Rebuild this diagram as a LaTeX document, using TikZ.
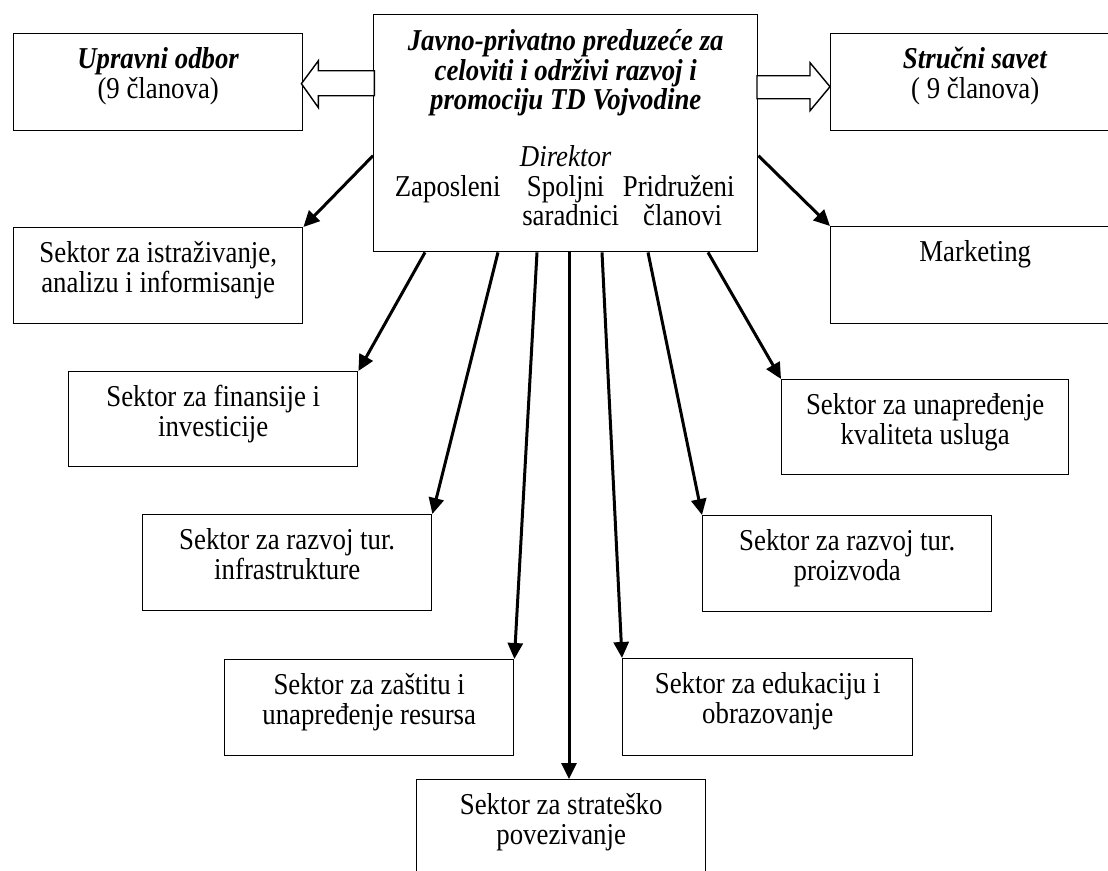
\documentclass[tikz,border=0pt]{standalone}
\usepackage{fontspec}
\setmainfont{Liberation Serif}[FakeStretch=0.885]
\usetikzlibrary{arrows.meta,calc}
% text size used in every box
\newcommand\boxfont{\fontsize{30.3}{29.5}\selectfont}
% fixed-size box content, text set from the top
\newcommand\topbox[3]{\parbox[t][#2][t]{#1}{\centering\rule{0pt}{35pt}#3}}

\begin{document}
\begin{tikzpicture}[x=1pt,y=1pt,
  every node/.style={font=\boxfont},
  unit/.style={draw, line width=1.4pt, inner sep=0pt, anchor=north west, fill=white},
  link/.style={line width=3pt, -{Triangle[length=16pt,width=15pt]}},
  hollow/.style={draw, line width=1.4pt, fill=white, line join=miter}]
\useasboundingbox (0,0) rectangle (1108,-870);

% central enterprise box
\node[unit] (main) at (373,-14) {\parbox[t][237pt][t]{384pt}{\centering
  {\bfseries\itshape\rule{0pt}{36pt}Javno-privatno preduzeće za\\celoviti i održivi razvoj i\\promociju TD Vojvodine\par}%
  \vspace{27.5pt}%
  \textit{Direktor}\par
  \makebox[384pt][l]{\hspace*{74pt}\makebox[0pt]{Zaposleni}\hspace*{118pt}\makebox[0pt]{Spoljni}\hspace*{113pt}\makebox[0pt]{Pridruženi}}\par
  \makebox[384pt][l]{\hspace*{197pt}\makebox[0pt]{saradnici}\hspace*{112pt}\makebox[0pt]{članovi}}\par}};

% boards
\node[unit] (upr) at (13,-33) {\topbox{289pt}{97pt}{\textbf{\textit{Upravni odbor}}\\(9 članova)}};
\node[unit] (str) at (830,-33) {\topbox{289pt}{97pt}{\textbf{\textit{Stručni savet}}\\( 9 članova)}};

% sectors
\node[unit] (istr)  at (13,-227)  {\topbox{289pt}{96pt}{Sektor za istraživanje,\\analizu i informisanje}};
\node[unit] (mkt)   at (830,-226) {\topbox{289pt}{97pt}{Marketing}};
\node[unit] (fin)   at (68,-371)  {\topbox{289pt}{95pt}{Sektor za finansije i\\investicije}};
\node[unit] (unap)  at (781,-379) {\topbox{287pt}{95pt}{Sektor za unapređenje\\kvaliteta usluga}};
\node[unit] (infra) at (142,-514) {\topbox{289pt}{96pt}{Sektor za razvoj tur.\\infrastrukture}};
\node[unit] (proiz) at (702,-515) {\topbox{289pt}{96pt}{Sektor za razvoj tur.\\proizvoda}};
\node[unit] (zast)  at (224,-659) {\topbox{289pt}{96pt}{Sektor za zaštitu i\\unapređenje resursa}};
\node[unit] (eduk)  at (622,-658) {\topbox{290pt}{97pt}{Sektor za edukaciju i\\obrazovanje}};
\node[unit] (strat) at (416,-779) {\topbox{289pt}{96pt}{Sektor za strateško\\povezivanje}};

% hollow block arrows to the boards
\draw[hollow] ($(upr.east)+(-2,-1.5)$) -- ($(upr.east)+(15,21.5)$) -- ($(upr.east)+(15,11.5)$)
  -- ($(upr.east)+(71,11.5)$) -- ($(upr.east)+(71,-13.5)$) -- ($(upr.east)+(15,-13.5)$)
  -- ($(upr.east)+(15,-25.5)$) -- cycle;
\draw[hollow] ($(str.west)+(0,-4.5)$) -- ($(str.west)+(-20,19.5)$) -- ($(str.west)+(-20,6.5)$)
  -- ($(str.west)+(-73,6.5)$) -- ($(str.west)+(-73,-16.5)$) -- ($(str.west)+(-20,-16.5)$)
  -- ($(str.west)+(-20,-28.5)$) -- cycle;

% connectors to the sectors
\draw[link] ($(main.west)+(0,-22.5)$) -- (istr.north east);
\draw[link] ($(main.east)+(0,-22.5)$) -- (mkt.north west);
\draw[link] ($(main.south west)+(52,0)$) -- (fin.north east);
\draw[link] ($(main.south west)+(125,0)$) -- (infra.north east);
\draw[link] ($(main.south west)+(164,0)$) -- (zast.north east);
\draw[link] ($(main.south west)+(196,0)$) -- ($(strat.north west)+(153,0)$);
\draw[link] ($(main.south west)+(229,0)$) -- (eduk.north west);
\draw[link] ($(main.south west)+(275,0)$) -- (proiz.north west);
\draw[link] ($(main.south west)+(335,0)$) -- (unap.north west);
\end{tikzpicture}
\end{document}
